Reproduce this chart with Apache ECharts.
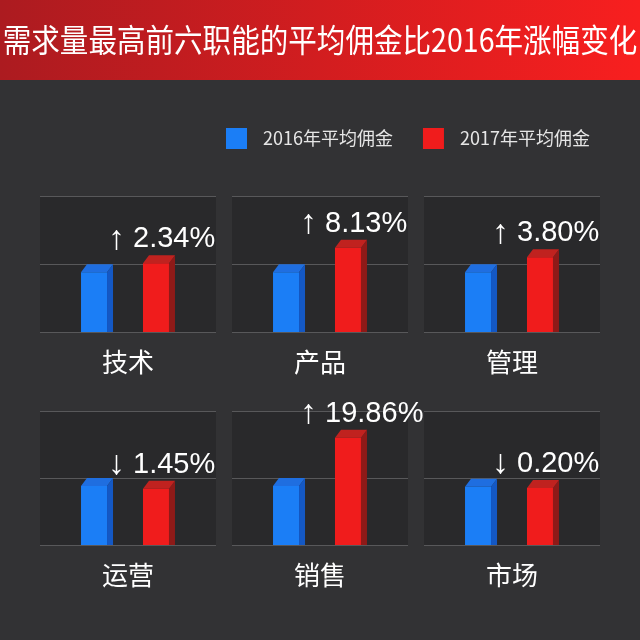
<!DOCTYPE html>
<html><head><meta charset="utf-8">
<script src="https://cdn.jsdelivr.net/npm/echarts@6/dist/echarts.min.js"></script>
<style>html,body{margin:0;padding:0;background:#323234;}#c{width:640px;height:640px;}</style>
</head><body><div id="c"></div>
<script>
const titleText = '需求量最高前六职能的平均佣金比2016年涨幅变化';
const seriesNames = ['2016年平均佣金', '2017年平均佣金'];
const categories = ['技术', '产品', '管理', '运营', '销售', '市场'];
const avg2016 = [88, 88, 88, 88, 88, 87];
const avg2017 = [101, 124, 110, 84, 160, 85];
const changePct = [2.34, 8.13, 3.80, -1.45, 19.86, -0.20];
const yTicks = [0, 100, 200];

const FONT_CJK = '"Noto Sans CJK SC", sans-serif';
const FONT_NUM = '"Liberation Sans", "DejaVu Sans", sans-serif';
const colors = [
  { front: '#1b7ef6', side: '#1458c4', top: '#1f6ee0' },
  { front: '#f01c1c', side: '#8e1a18', top: '#c0221f' }
];
const panelLeft = [40, 232, 424];
const panelTop = [196, 411];
const panelH = [136, 134];

function fmtChange(v) {
  return '{a|' + (v >= 0 ? '↑' : '↓') + '}{b| ' + Math.abs(v).toFixed(2) + '%}';
}

function makeRender(k, gi) {
  return function (params, api) {
    const v = api.value(1);
    const base = api.coord([0, 0]);
    const topP = api.coord([0, v]);
    const band = api.size([1, 0])[0];
    const W = 26, DX = 6, DY = 8;
    const cx = base[0] + (k === 0 ? -1 : 1) * band * 0.176;
    const x0 = cx - (W + DX) / 2;
    const yT = topP[1], yB = base[1];
    const c = colors[k];
    const children = [
      { type: 'polygon', shape: { points: [[x0 + W, yT], [x0 + W + DX, yT - DY], [x0 + W + DX, yB], [x0 + W, yB]] }, style: { fill: c.side } },
      { type: 'polygon', shape: { points: [[x0, yT], [x0 + DX, yT - DY], [x0 + W + DX, yT - DY], [x0 + W, yT]] }, style: { fill: c.top } },
      { type: 'rect', shape: { x: x0, y: yT, width: W, height: yB - yT }, style: { fill: c.front } }
    ];
    if (k === 1) {
      children.push({
        type: 'text', x: base[0] - 20, y: yT - 24,
        style: { text: fmtChange(changePct[gi]), fill: '#ffffff', fontSize: 29, fontFamily: FONT_NUM, align: 'left', verticalAlign: 'middle',
          rich: {
            a: { fontSize: 34, fontFamily: FONT_NUM, fill: '#ffffff' },
            b: { fontSize: 29, fontFamily: FONT_NUM, fill: '#ffffff' }
          } }
      });
    }
    return { type: 'group', children: children };
  };
}

const grids = [], xAxes = [], yAxes = [], series = [];
categories.forEach(function (cat, i) {
  const row = Math.floor(i / 3), col = i % 3;
  grids.push({ left: panelLeft[col], top: panelTop[row], width: 176, height: panelH[row], show: true, backgroundColor: '#29292b', borderWidth: 0 });
  xAxes.push({ type: 'category', gridIndex: i, data: [cat], axisLine: { show: false }, axisTick: { show: false }, splitLine: { show: false },
    axisLabel: { color: '#ffffff', fontSize: 26, margin: 17, fontFamily: FONT_CJK } });
  yAxes.push({ type: 'value', gridIndex: i, min: yTicks[0], max: yTicks[yTicks.length - 1], interval: yTicks[1] - yTicks[0],
    axisLine: { show: false }, axisTick: { show: false }, axisLabel: { show: false },
    splitLine: { show: true, lineStyle: { color: '#58585a', width: 1 } } });
  [avg2016, avg2017].forEach(function (arr, k) {
    series.push({ type: 'custom', name: seriesNames[k], xAxisIndex: i, yAxisIndex: i,
      itemStyle: { color: colors[k].front }, data: [[cat, arr[i]]], renderItem: makeRender(k, i), z: 5 });
  });
});

const chart = echarts.init(document.getElementById('c'));
chart.setOption({
  backgroundColor: '#323234',
  animation: false,
  graphic: [
    { type: 'rect', left: 0, top: 0, shape: { width: 640, height: 80 },
      style: { fill: new echarts.graphic.LinearGradient(0, 0, 1, 0, [{ offset: 0, color: '#ac1b20' }, { offset: 1, color: '#f81f1f' }]) }, z: 1 },
    { type: 'text', x: 320, y: 40, scaleX: 1.02, scaleY: 1.15, z: 2,
      style: { text: titleText, fill: '#ffffff', fontSize: 28, fontFamily: FONT_CJK, align: 'center', verticalAlign: 'middle' } }
  ],
  legend: { data: seriesNames, left: 221, top: 123, itemWidth: 21, itemHeight: 21, itemGap: 30, icon: 'rect', selectedMode: false,
    textStyle: { color: '#e6e6e6', fontSize: 18, fontFamily: FONT_CJK, padding: [0, 0, 0, 11] } },
  grid: grids, xAxis: xAxes, yAxis: yAxes, series: series
});
</script></body></html>
